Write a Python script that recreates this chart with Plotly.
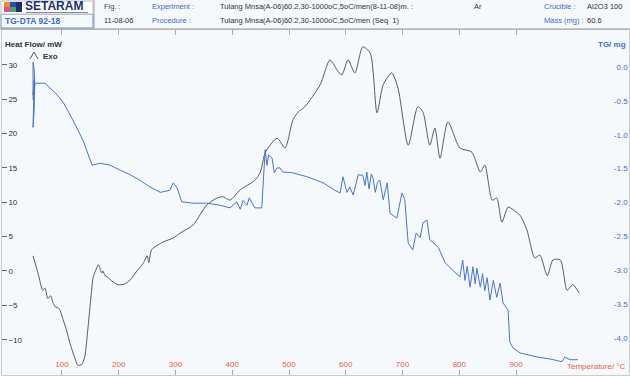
import plotly.graph_objects as go

# ---------------- data ----------------
# DTA heat flow (mW) vs temperature (°C)
hf_temp = [49, 58, 66, 70, 75, 80, 84, 88, 95, 102, 108, 114, 122, 128, 135, 140, 146, 151, 155, 160,
           164, 167, 170, 172, 176, 179, 190, 199, 210, 220, 232, 243, 250, 253, 258, 278, 296, 308,
           331, 355, 373, 384, 396, 414, 440, 449, 454, 458, 479, 493, 507, 516, 528, 555, 572, 585,
           593, 604, 616, 630, 643, 655, 666, 681, 692, 710, 727, 736, 748, 757, 766, 780, 801, 822,
           837, 845, 858, 866, 875, 886, 895, 907, 919, 933, 942, 955, 965, 978, 990, 1000, 1011]
hf_val = [2.2, -0.4, -2.8, -2.5, -4.0, -3.6, -4.6, -5.2, -5.5, -7.1, -8.6, -10.5, -12.5, -13.7, -13.6,
          -12.5, -8.1, -3.8, -0.9, 0.2, 0.9, 0.4, -0.3, 0.0, -0.7, -0.8, -1.6, -2.0, -1.9, -1.3, 0.0,
          1.1, 2.2, 1.2, 3.1, 4.2, 4.8, 5.5, 6.7, 9.6, 10.6, 10.8, 10.3, 11.8, 13.2, 14.3, 15.9, 17.2,
          19.3, 17.9, 22.0, 23.1, 23.9, 27.1, 30.7, 29.2, 28.5, 30.7, 28.8, 32.6, 31.7, 23.0, 27.1,
          28.8, 26.6, 18.3, 23.9, 23.1, 18.3, 20.8, 16.4, 21.7, 17.9, 17.3, 14.4, 15.4, 10.3, 10.6,
          7.1, 9.3, 8.9, 8.1, 6.0, 1.9, 2.3, -0.7, 1.6, 1.6, -2.8, -2.0, -3.2]

# TG mass change (mg) vs temperature (°C)
tg_temp = [49, 49, 51, 52, 49, 51, 49, 51, 52, 70, 79, 88, 102, 119, 137, 149, 153, 167, 185, 202,
           220, 237, 255, 273, 290, 296, 303, 311, 331, 355, 378, 396, 408, 414, 419, 426, 430, 435,
           440, 452, 458, 461, 464, 470, 474, 479, 484, 489, 505, 532, 560, 581, 590, 595, 602, 607,
           613, 622, 630, 634, 637, 641, 645, 648, 652, 656, 660, 666, 673, 678, 690, 699, 704, 710,
           718, 724, 731, 736, 743, 748, 763, 775, 801, 806, 810, 814, 819, 824, 828, 831, 837, 841,
           845, 849, 854, 860, 866, 872, 877, 886, 889, 895, 907, 937, 960, 981, 986, 995, 1009]
tg_val = [-0.49, 0.07, -0.04, -0.27, -0.41, -0.19, -0.89, -0.63, -0.24, -0.24, -0.31, -0.38, -0.52,
          -0.78, -1.08, -1.34, -1.45, -1.42, -1.45, -1.52, -1.59, -1.67, -1.77, -1.85, -1.82, -1.71,
          -1.79, -1.99, -2.01, -2.01, -2.04, -2.08, -1.99, -2.10, -1.97, -2.04, -1.93, -2.01, -2.08,
          -2.08, -1.22, -1.45, -1.30, -1.34, -1.56, -1.49, -1.49, -1.55, -1.56, -1.62, -1.71, -1.82,
          -1.86, -1.62, -1.85, -1.77, -1.89, -1.59, -1.60, -1.75, -1.55, -1.80, -1.58, -1.64, -1.85,
          -1.70, -1.67, -1.96, -1.71, -2.16, -2.23, -1.86, -1.96, -2.60, -2.70, -2.45, -2.52, -2.30,
          -2.26, -2.55, -2.66, -2.89, -3.10, -2.85, -3.15, -2.94, -3.25, -2.95, -3.20, -2.97, -3.25,
          -3.05, -3.30, -3.11, -3.44, -3.15, -3.40, -3.19, -3.48, -3.59, -4.06, -4.15, -4.22, -4.28,
          -4.31, -4.35, -4.28, -4.32, -4.32]

x_ticks = [100, 200, 300, 400, 500, 600, 700, 800, 900]
hf_ticks = [-10, -5, 0, 5, 10, 15, 20, 25, 30]
tg_ticks = [0.0, -0.5, -1.0, -1.5, -2.0, -2.5, -3.0, -3.5, -4.0]

W, H = 630, 376
FONT = "Liberation Sans, Arial, sans-serif"
BLUE = "#3f6cc4"
RED = "#e8624a"


def px(x):
    return x / W


def py(y):
    return 1 - y / H


fig = go.Figure()
fig.add_trace(go.Scatter(x=hf_temp, y=hf_val, mode="lines",
                         line=dict(color="#5a5a5a", width=1, shape="spline", smoothing=0.7),
                         yaxis="y", showlegend=False))
fig.add_trace(go.Scatter(x=tg_temp, y=tg_val, mode="lines",
                         line=dict(color="#4a74cc", width=1), yaxis="y2", showlegend=False))

fig.update_layout(
    width=W, height=H,
    margin=dict(l=0, r=0, t=0, b=0),
    paper_bgcolor="#f5f9fc",
    plot_bgcolor="#f5f9fc",
    font=dict(family=FONT, size=8, color="#333"),
    xaxis=dict(domain=[px(2), px(629)], range=[-5.7, 1099], tickvals=x_ticks,
               ticks="inside", ticklen=5, tickcolor="#aaa", ticklabelposition="inside",
               tickfont=dict(color=RED, size=8), showgrid=False, zeroline=False,
               showline=True, linecolor="#ccc", mirror="ticks"),
    yaxis=dict(domain=[1 - 375 / H, 1 - 30 / H], range=[-15.13, 35.05], tickvals=hf_ticks,
               ticks="inside", ticklen=5, tickcolor="#666", ticklabelposition="inside",
               tickfont=dict(color="#333", size=8), showgrid=False, zeroline=False,
               showline=True, linecolor="#ccc"),
    yaxis2=dict(overlaying="y", side="right", range=[-4.546, 0.546], tickvals=tg_ticks,
                ticktext=[f"{v:.1f}" for v in tg_ticks],
                ticks="", ticklabelposition="inside", tickfont=dict(color=BLUE, size=8),
                showgrid=False, zeroline=False, showline=True, linecolor="#ccc"),
)

shapes = []
# header grid
shapes.append(dict(type="line", xref="paper", yref="paper", x0=0, x1=1, y0=py(29), y1=py(29),
                   line=dict(color="#9a9a9a", width=1)))
shapes.append(dict(type="line", xref="paper", yref="paper", x0=px(94), x1=px(94), y0=py(0), y1=py(29),
                   line=dict(color="#9a9a9a", width=1)))
shapes.append(dict(type="rect", xref="paper", yref="paper", x0=px(1), x1=px(93), y0=py(14), y1=py(28),
                   line=dict(color="#6a8fd0", width=1)))
shapes.append(dict(type="rect", xref="paper", yref="paper", x0=px(1), x1=px(93), y0=py(1), y1=py(14),
                   line=dict(color="#bbb", width=1), fillcolor="white"))
# logo colour block
for (x0, x1, y0, y1, c) in [(4, 10, 2, 7, "#f08a24"), (10, 16, 2, 7, "#2b4fa8"),
                            (4, 10, 7, 12, "#e84a8a"), (10, 16, 7, 12, "#42a85a"),
                            (16, 22, 2, 12, "#1d2f73")]:
    shapes.append(dict(type="rect", xref="paper", yref="paper", x0=px(x0), x1=px(x1),
                       y0=py(y1), y1=py(y0), line=dict(width=0), fillcolor=c))
shapes.append(dict(type="line", xref="paper", yref="paper", x0=px(26), x1=px(88), y0=py(12.5), y1=py(12.5),
                   line=dict(color="#8a8a8a", width=1)))
# Exo arrow
shapes.append(dict(type="path", xref="paper", yref="paper",
                   path=f"M {px(30)},{py(59)} L {px(34)},{py(52)} L {px(38)},{py(59)}",
                   line=dict(color="#555", width=1)))
fig.update_layout(shapes=shapes)

ann = []


def txt(x, y, s, color="#333", size=7.5, anchor="left", bold=False):
    ann.append(dict(x=px(x), y=py(y), xref="paper", yref="paper", text=f"<b>{s}</b>" if bold else s,
                    showarrow=False, xanchor=anchor, yanchor="middle",
                    font=dict(color=color, size=size, family=FONT)))


txt(23, 6.5, "SETARAM", color="#1d2f73", size=12, bold=True)
txt(3, 21, "TG-DTA 92-18", color=BLUE, size=8.5, bold=True)
txt(102, 7, "Fig. :", color="#444")
txt(102, 20, "11-08-06", color="#333")
txt(150, 7, "Experiment :", color=BLUE)
txt(150, 20, "Procedure :", color=BLUE)
txt(218, 7, "Tulang Mnsa(A-06)60.2,30-1000oC,5oC/men(8-11-08)m. :", color="#333")
txt(218, 20, "Tulang Mnsa(A-06)60.2,30-1000oC,5oC/men (Seq  1)", color="#333")
txt(472, 7, "Ar", color="#333")
txt(542, 7, "Crucible :", color=BLUE)
txt(585, 7, "Al2O3 100", color="#333")
txt(542, 20, "Mass (mg) :", color=BLUE)
txt(585, 20, "60.6", color="#333")
txt(3, 45, "Heat Flow/ mW", color="#333", size=8, bold=True)
txt(41, 56, "Exo", color="#333", size=8, bold=True)
txt(628, 45, "TG/ mg", color=BLUE, size=8, anchor="right", bold=True)
txt(628, 366, "Temperature/ °C", color=RED, size=8, anchor="right")
fig.update_layout(annotations=ann)

fig.write_html("out.html")
